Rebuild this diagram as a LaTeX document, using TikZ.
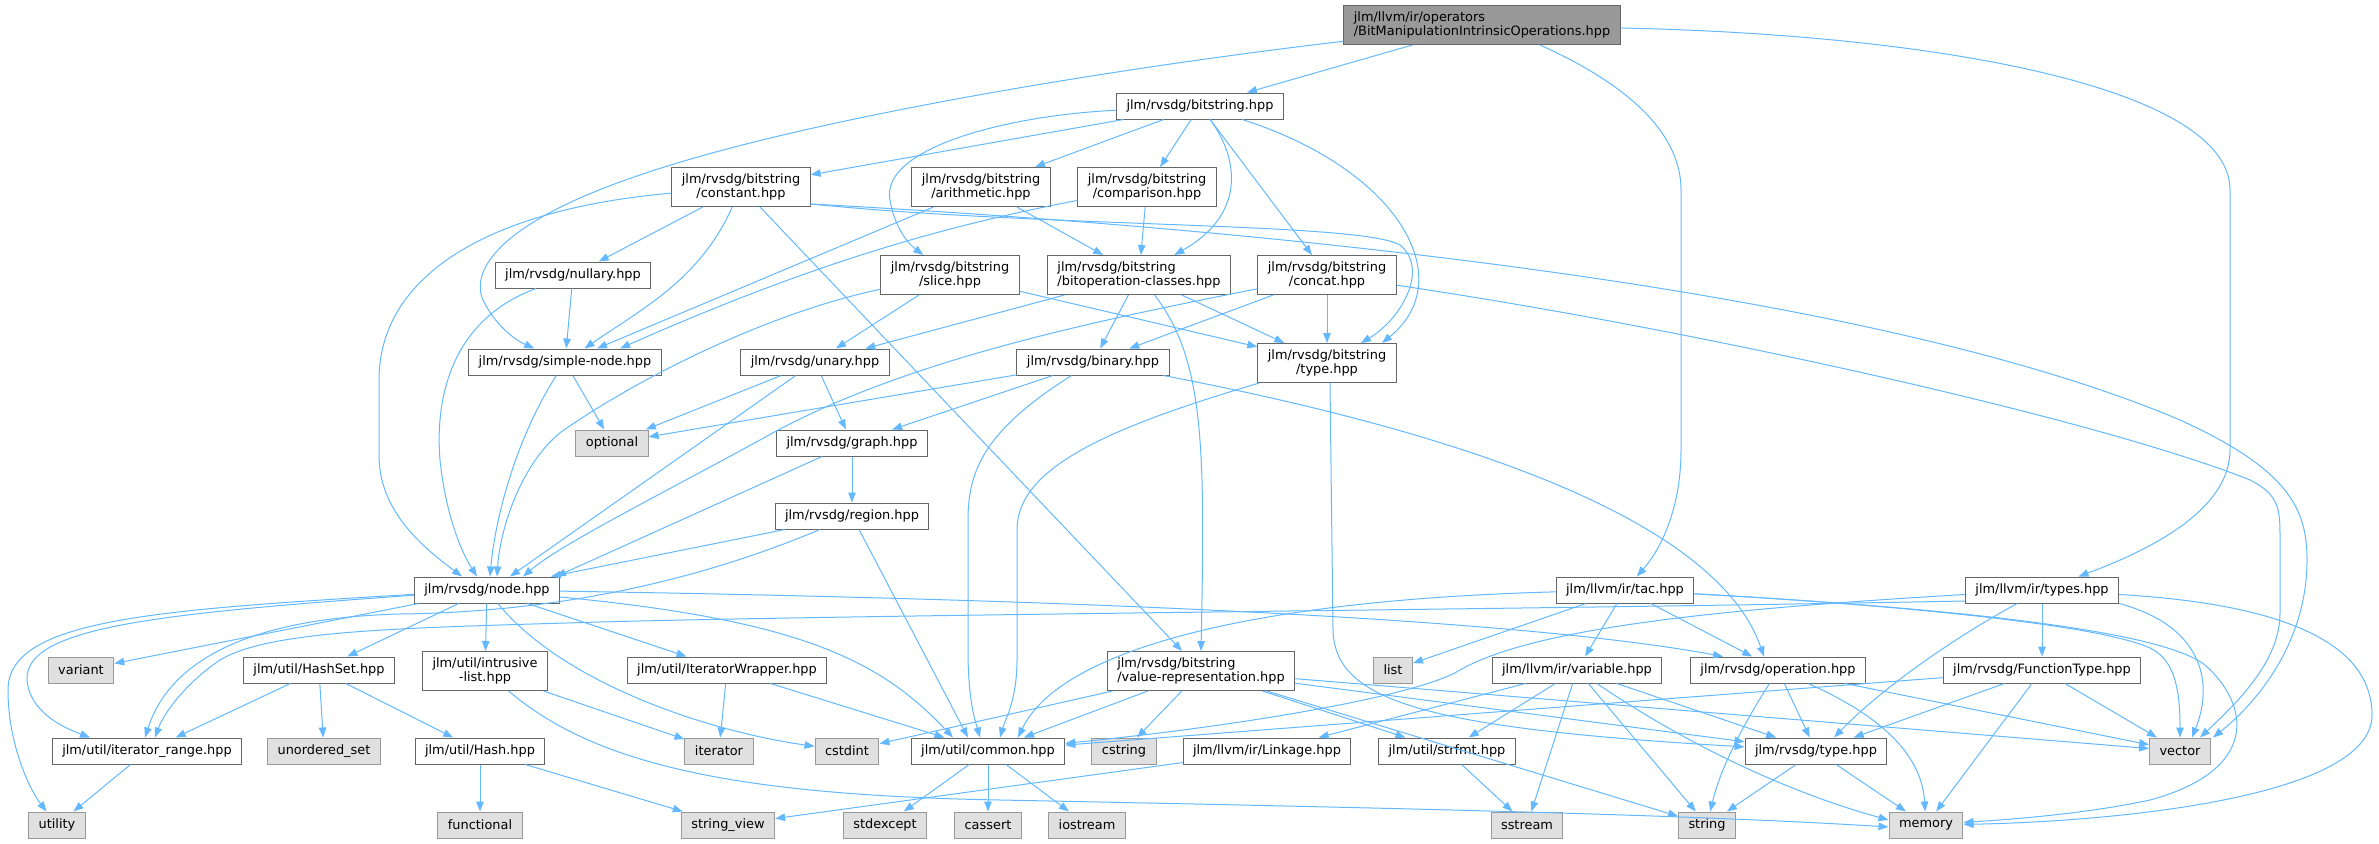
\documentclass[tikz,border=0pt]{standalone}
\usepackage{fontspec}
\setmainfont{DejaVu Sans}
\usetikzlibrary{arrows.meta}

\definecolor{edgeblue}{HTML}{63B8FF}
\definecolor{boxline}{HTML}{666666}
\definecolor{sysline}{HTML}{999999}
\definecolor{sysfill}{HTML}{E0E0E0}
\definecolor{mainfill}{HTML}{999999}

\begin{document}
\begin{tikzpicture}[x=1pt, y=-1pt,
	file/.style = {draw=boxline, fill=white, line width=1pt, font=\fontsize{12.9}{14.5}\selectfont, inner xsep=10pt, inner ysep=6pt, minimum height=26pt},
	sys/.style  = {file, draw=sysline, fill=sysfill},
	main/.style = {file, fill=mainfill},
	edge/.style = {-{Triangle[length=10pt,width=7.5pt]}, draw=edgeblue, line width=1pt}]

	\useasboundingbox (0,0) rectangle (2379,843);

	% the file itself
	\node[main, align=left] (root) at (1482,25) {jlm/llvm/ir/operators\\/BitManipulationIntrinsicOperations.hpp};

	% rvsdg bitstring headers
	\node[file] (bits) at (1200,106) {jlm/rvsdg/bitstring.hpp};
	\node[file, align=center] (bconst) at (741,187) {jlm/rvsdg/bitstring\\/constant.hpp};
	\node[file, align=center] (barith) at (981,187) {jlm/rvsdg/bitstring\\/arithmetic.hpp};
	\node[file, align=center] (bcomp) at (1147,187) {jlm/rvsdg/bitstring\\/comparison.hpp};
	\node[file] (nullary) at (573,275) {jlm/rvsdg/nullary.hpp};
	\node[file, align=center] (bslice) at (950,275) {jlm/rvsdg/bitstring\\/slice.hpp};
	\node[file, align=left] (bitop) at (1139,275) {jlm/rvsdg/bitstring\\/bitoperation-classes.hpp};
	\node[file, align=center] (bconcat) at (1327,275) {jlm/rvsdg/bitstring\\/concat.hpp};
	\node[file] (simple) at (565,362) {jlm/rvsdg/simple-node.hpp};
	\node[file] (unary) at (815,362) {jlm/rvsdg/unary.hpp};
	\node[file] (binary) at (1093,362) {jlm/rvsdg/binary.hpp};
	\node[file, align=center] (btype) at (1327,363) {jlm/rvsdg/bitstring\\/type.hpp};
	\node[file] (graph) at (852,443) {jlm/rvsdg/graph.hpp};
	\node[file] (region) at (852,516) {jlm/rvsdg/region.hpp};
	\node[file] (node) at (487,590) {jlm/rvsdg/node.hpp};

	% util and llvm headers
	\node[file] (hashset) at (319,670) {jlm/util/HashSet.hpp};
	\node[file, align=center] (ilist) at (485,671) {jlm/util/intrusive\\-list.hpp};
	\node[file] (itwrap) at (727,670) {jlm/util/IteratorWrapper.hpp};
	\node[file] (itrange) at (147,751) {jlm/util/iterator\_range.hpp};
	\node[file] (hash) at (480,751) {jlm/util/Hash.hpp};
	\node[file, align=left] (valrep) at (1201,671) {jlm/rvsdg/bitstring\\/value-representation.hpp};
	\node[file] (common) at (988,751) {jlm/util/common.hpp};
	\node[file] (linkage) at (1267,751) {jlm/llvm/ir/Linkage.hpp};
	\node[file] (strfmt) at (1447,751) {jlm/util/strfmt.hpp};
	\node[file] (tac) at (1625,590) {jlm/llvm/ir/tac.hpp};
	\node[file] (variable) at (1577,670) {jlm/llvm/ir/variable.hpp};
	\node[file] (types) at (2042,590) {jlm/llvm/ir/types.hpp};
	\node[file] (operation) at (1778,670) {jlm/rvsdg/operation.hpp};
	\node[file] (ftype) at (2042,670) {jlm/rvsdg/FunctionType.hpp};
	\node[file] (rtype) at (1816,751) {jlm/rvsdg/type.hpp};

	% system headers
	\begin{scope}[every node/.style={sys}]
	\node (optional) at (612,443) {optional};
	\node (variant) at (81,670) {variant};
	\node (unordset) at (324,751) {unordered\_set};
	\node (iterator) at (719,751) {iterator};
	\node (utility) at (57,825) {utility};
	\node (functional) at (480,825) {functional};
	\node (strview) at (728,825) {string\_view};
	\node (cstdint) at (847,751) {cstdint};
	\node (cstring) at (1124,751) {cstring};
	\node (list) at (1393,670) {list};
	\node (stdexcept) at (885,825) {stdexcept};
	\node (cassert) at (988,825) {cassert};
	\node (iostream) at (1087,825) {iostream};
	\node (sstream) at (1527,825) {sstream};
	\node (vector) at (2180,751) {vector};
	\node (string) at (1707,825) {string};
	\node (memory) at (1926,825) {memory};
	\end{scope}

	% includes drawn as straight lines
	\foreach \src/\dst in {root/bits, bits/bconst, bits/barith, bits/bcomp, bits/bconcat,
		bconst/nullary, bconst/valrep, barith/bitop, barith/simple, bcomp/bitop,
		nullary/simple, simple/optional, bslice/unary, bslice/btype,
		bitop/unary, bitop/binary, bitop/btype, bconcat/binary, bconcat/btype,
		unary/optional, unary/graph, binary/optional, binary/graph, graph/region,
		node/variant, node/hashset, node/ilist, node/itwrap,
		hashset/itrange, hashset/unordset, hashset/hash, ilist/iterator,
		itwrap/iterator, itwrap/common, itrange/utility, hash/functional, hash/strview,
		valrep/cstdint, valrep/common, valrep/cstring, valrep/strfmt, valrep/rtype,
		valrep/string, valrep/vector, common/stdexcept, common/cassert, common/iostream,
		linkage/strview, strfmt/sstream, tac/list, tac/variable, tac/operation,
		types/ftype, variable/linkage, variable/strfmt, variable/sstream,
		variable/string, variable/rtype, operation/rtype, operation/vector,
		ftype/common, ftype/rtype, ftype/memory, ftype/vector, rtype/string, rtype/memory}
	\draw[edge] (\src) -- (\dst);

	% arrows that land on a given spot
	\draw[edge] (unary) -- ([xshift=23pt]node.north);
	\draw[edge] (graph) -- ([xshift=69pt]node.north);
	\draw[edge] (region) -- ([xshift=64pt]node.north);
	\draw[edge] (region) -- ([xshift=-20pt]common.north);

	% the file itself
	\draw[edge] (root) .. controls (1100,70) and (800,120) .. (640,175) .. controls (500,222) and (470,270) .. (483,300) .. controls (495,325) and (515,340) .. (simple);
	\draw[edge] ([xshift=58pt]root.south) .. controls (1640,90) and (1681,140) .. (1681,190) -- (1681,450) .. controls (1681,510) and (1660,550) .. (tac);
	\draw[edge] (root) .. controls (1950,35) and (2230,90) .. (2230,190) -- (2230,450) .. controls (2230,510) and (2150,550) .. (types);

	% bitstring.hpp
	\draw[edge] (bits) .. controls (1000,116) and (880,150) .. (890,200) .. controls (895,230) and (910,245) .. (bslice);
	\draw[edge] (bits) .. controls (1240,160) and (1245,215) .. (bitop);
	\draw[edge] (bits) .. controls (1400,170) and (1460,280) .. ([xshift=55pt]btype.north);

	% constant.hpp and friends
	\draw[edge] (bconst) .. controls (700,280) and (640,310) .. (simple);
	\draw[edge] (bcomp) .. controls (950,225) and (820,260) .. ([xshift=55pt]simple.north);
	\draw[edge] (bconst) .. controls (480,210) and (379,280) .. (379,380) -- (379,455) .. controls (379,510) and (420,545) .. ([xshift=-25pt]node.north);
	\draw[edge] ([yshift=3pt]bconst.south east) .. controls (1050,228) and (1360,222) .. (1400,245) .. controls (1430,270) and (1400,320) .. (btype);
	\draw[edge] ([yshift=3pt]bconst.south east) .. controls (1200,225) and (1850,280) .. (2180,420) .. controls (2290,470) and (2307,510) .. (2307,560) .. controls (2307,640) and (2260,700) .. ([xshift=33pt]vector.north);
	\draw[edge] (bconcat) .. controls (1700,330) and (2100,420) .. (2250,480) .. controls (2280,495) and (2280,510) .. (2280,540) -- (2280,613) .. controls (2280,660) and (2240,700) .. ([xshift=20pt]vector.north);
	\draw[edge] (bconcat) .. controls (1100,320) and (900,360) .. (760,440) .. controls (650,500) and (560,545) .. ([xshift=36pt]node.north);
	\draw[edge] (bitop) .. controls (1205,360) and (1205,450) .. (valrep.north);

	% down to node.hpp
	\draw[edge] (nullary) .. controls (450,320) and (435,400) .. (440,460) .. controls (445,510) and (460,550) .. ([xshift=-10pt]node.north);
	\draw[edge] (simple) .. controls (515,440) and (495,520) .. ([xshift=3pt]node.north);
	\draw[edge] (bslice) .. controls (780,310) and (650,370) .. (561,432) .. controls (520,465) and (500,530) .. ([xshift=10pt]node.north);

	% bitstring/type.hpp and binary.hpp
	\draw[edge] (btype) .. controls (1100,430) and (1017,470) .. (1017,530) -- (1017,660) .. controls (1017,700) and (1005,720) .. ([xshift=12pt]common.north);
	\draw[edge] ([xshift=3pt]btype.south) -- (1333,630) .. controls (1335,700) and (1420,728) .. (rtype);
	\draw[edge] (binary) .. controls (985,430) and (968,470) .. (968,520) -- (968,650) .. controls (968,700) and (975,720) .. ([xshift=-8pt]common.north);
	\draw[edge] (binary) .. controls (1500,440) and (1720,530) .. ([xshift=-14pt]operation.north);

	% region.hpp and node.hpp
	\draw[edge] (region) .. controls (700,580) and (560,612) .. (400,614) .. controls (250,618) and (170,660) .. ([xshift=-2pt]itrange.north);
	\draw[edge] (node) .. controls (150,610) and (8,620) .. (8,690) .. controls (8,745) and (30,790) .. (utility);
	\draw[edge] (node) .. controls (150,614) and (25,628) .. (27,680) .. controls (30,715) and (70,730) .. ([xshift=-57pt]itrange.north);
	\draw[edge] (node) .. controls (560,680) and (700,730) .. (cstdint);
	\draw[edge] (node) .. controls (800,620) and (880,660) .. ([xshift=-35pt]common.north);
	\draw[edge] (node) .. controls (1000,598) and (1500,615) .. ([xshift=-55pt]operation.north);
	\draw[edge] (ilist) .. controls (590,760) and (720,795) .. (1000,800) .. controls (1400,808) and (1700,815) .. ([yshift=-2pt]memory.west);

	% tac.hpp
	\draw[edge] (tac) .. controls (1250,600) and (1060,650) .. ([xshift=30pt]common.north);
	\draw[edge] (tac) .. controls (1900,605) and (2100,625) .. (2150,648) .. controls (2175,660) and (2180,690) .. (vector.north);
	\draw[edge] (tac) .. controls (1950,608) and (2160,630) .. (2205,665) .. controls (2250,705) and (2260,770) .. (2150,800) .. controls (2080,815) and (2000,820) .. (memory);

	% types.hpp
	\draw[edge] ([yshift=-11pt]types.west) .. controls (1500,610) and (900,614) .. (600,622) .. controls (400,628) and (270,630) .. (220,660) .. controls (190,680) and (165,710) .. ([xshift=8pt]itrange.north);
	\draw[edge] (types) .. controls (1700,610) and (1530,630) .. (1460,670) .. controls (1420,695) and (1250,725) .. (common);
	\draw[edge] (types) .. controls (1950,640) and (1880,690) .. ([xshift=18pt]rtype.north);
	\draw[edge] (types.south east) .. controls (2200,625) and (2215,680) .. ([xshift=12pt]vector.north);
	\draw[edge] (types) .. controls (2300,605) and (2372,650) .. (2372,715) .. controls (2372,800) and (2100,822) .. (memory);

	% variable.hpp and operation.hpp
	\draw[edge] (variable) .. controls (1680,740) and (1780,790) .. ([yshift=5pt]memory.west);
	\draw[edge] (operation) .. controls (1740,730) and (1720,770) .. (string);
	\draw[edge] (operation) .. controls (1890,720) and (1922,760) .. (memory);

\end{tikzpicture}
\end{document}
